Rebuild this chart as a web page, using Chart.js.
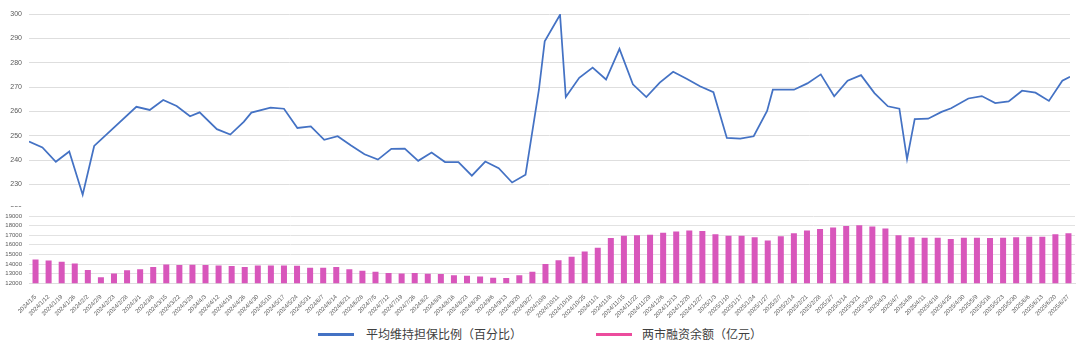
<!DOCTYPE html>
<html>
<head>
<meta charset="utf-8">
<script src="https://cdn.jsdelivr.net/npm/chart.js@4.4.1/dist/chart.umd.min.js"></script>
<style>
  html, body { margin: 0; padding: 0; background: #ffffff; }
  #wrap { position: relative; width: 1080px; height: 352px; overflow: hidden; background: #fff; }
  #topBox { position: absolute; left: 0; top: 0; width: 1080px; height: 207px; overflow: hidden; }
  #topBox canvas { position: absolute; left: 0; top: 0; }
  #botBox { position: absolute; left: 0; top: 205px; width: 1080px; height: 115px; }
  .leg { position: absolute; font-family: "Noto Sans CJK SC", "Noto Sans", sans-serif; font-size: 12px; color: #404040; line-height: 16px; white-space: nowrap; }
  .sw { position: absolute; height: 3px; width: 36px; }
</style>
</head>
<body>
<div id="wrap">
  <div id="topBox"><canvas id="topChart" width="1080" height="220"></canvas></div>
  <div id="botBox"><canvas id="botChart" width="1080" height="115"></canvas></div>
  <div class="sw" style="left:318px; top:333px; background:#4472C4;"></div>
  <div class="leg" style="left:366px; top:326px;">平均维持担保比例（百分比）</div>
  <div class="sw" style="left:596px; top:333px; background:#EC4C9D;"></div>
  <div class="leg" style="left:642px; top:326px;">两市融资余额（亿元）</div>
</div>
<script>
// ---- Data: average maintenance guarantee ratio (%) ----
const lineDates = [
  "2024/1/5","2024/1/12","2024/1/19","2024/1/26","2024/2/2","2024/2/8","2024/3/1","2024/3/8","2024/3/15","2024/3/22",
  "2024/3/29","2024/4/3","2024/4/12","2024/4/19","2024/4/26","2024/4/30","2024/5/10","2024/5/17","2024/5/24","2024/5/31",
  "2024/6/7","2024/6/14","2024/6/21","2024/6/28","2024/7/5","2024/7/12","2024/7/19","2024/7/26","2024/8/2","2024/8/9",
  "2024/8/16","2024/8/23","2024/8/30","2024/9/6","2024/9/13","2024/9/20","2024/9/27","2024/9/30","2024/10/8","2024/10/11",
  "2024/10/18","2024/10/25","2024/11/1","2024/11/8","2024/11/15","2024/11/22","2024/11/29","2024/12/6","2024/12/13","2024/12/20",
  "2024/12/27","2025/1/3","2025/1/10","2025/1/17","2025/1/24","2025/1/27","2025/2/7","2025/2/14","2025/2/21","2025/2/28",
  "2025/3/7","2025/3/14","2025/3/21","2025/3/28","2025/4/3","2025/4/7","2025/4/11","2025/4/18","2025/4/25","2025/4/30",
  "2025/5/9","2025/5/16","2025/5/23","2025/5/30","2025/6/6","2025/6/13","2025/6/20","2025/6/27","2025/7/1"
];
const lineValues = [
  247.6,245.2,239.3,243.5,225.8,245.8,261.9,260.6,264.7,262.2,
  258.0,259.6,252.7,250.5,255.7,259.5,261.5,261.1,253.2,253.8,
  248.3,249.8,246.0,242.4,240.2,244.6,244.7,239.7,243.1,239.2,
  239.2,233.6,239.4,236.7,230.8,234.0,269.0,288.8,299.7,265.9,
  273.8,278.0,273.1,285.7,271.1,265.9,271.8,276.3,273.4,270.3,
  267.9,249.1,248.8,249.8,260.2,268.9,268.9,271.5,275.2,266.2,
  272.6,274.9,267.5,262.1,261.1,240.4,256.8,257.0,259.8,261.3,
  265.3,266.3,263.4,264.1,268.5,267.7,264.3,272.6,274.2
];
const lineTicks = [220, 230, 240, 250, 260, 270, 280, 290, 300];

// ---- Data: margin financing balance of both markets (100 million yuan) ----
const barDates = [
  "2024/1/5","2024/1/12","2024/1/19","2024/1/26","2024/2/2","2024/2/9","2024/2/23","2024/2/28","2024/3/1","2024/3/8",
  "2024/3/15","2024/3/22","2024/3/29","2024/4/3","2024/4/12","2024/4/19","2024/4/26","2024/4/30","2024/5/10","2024/5/17",
  "2024/5/24","2024/5/31","2024/6/7","2024/6/14","2024/6/21","2024/6/28","2024/7/5","2024/7/12","2024/7/19","2024/7/26",
  "2024/8/2","2024/8/9","2024/8/16","2024/8/23","2024/8/30","2024/9/6","2024/9/13","2024/9/20","2024/9/27","2024/10/8",
  "2024/10/11","2024/10/18","2024/10/25","2024/11/1","2024/11/8","2024/11/15","2024/11/22","2024/11/29","2024/12/6","2024/12/13",
  "2024/12/20","2024/12/27","2025/1/3","2025/1/10","2025/1/17","2025/1/24","2025/1/27","2025/2/7","2025/2/14","2025/2/21",
  "2025/2/28","2025/3/7","2025/3/14","2025/3/21","2025/3/28","2025/4/3","2025/4/7","2025/4/8","2025/4/11","2025/4/18",
  "2025/4/25","2025/4/30","2025/5/9","2025/5/16","2025/5/23","2025/5/30","2025/6/6","2025/6/13","2025/6/20","2025/6/27"
];
const barValues = [
  14480,14380,14240,14070,13380,12620,13030,13345,13450,13690,
  13965,13900,13930,13900,13860,13790,13690,13860,13860,13860,
  13830,13620,13620,13690,13460,13310,13210,13070,13030,13070,
  13000,12970,12830,12790,12720,12590,12550,12830,13210,14000,
  14410,14760,15310,15700,16700,16950,17000,17050,17250,17400,
  17500,17450,17100,16950,16950,16800,16450,16900,17200,17500,
  17650,17800,17950,18050,17900,17700,17000,16800,16750,16750,
  16600,16750,16750,16700,16750,16800,16850,16850,17100,17200
];
const barTicks = [12000, 13000, 14000, 15000, 16000, 17000, 18000, 19000];

function dayNum(s) {
  const p = s.split('/').map(Number);
  return Date.UTC(p[0], p[1] - 1, p[2]) / 86400000;
}

const fam = "'Liberation Sans', 'DejaVu Sans', sans-serif";

// ---- Top chart: line on a date-proportional axis ----
new Chart(document.getElementById('topChart'), {
  type: 'line',
  data: {
    datasets: [{
      label: '平均维持担保比例（百分比）',
      data: lineDates.map((d, i) => ({ x: dayNum(d), y: lineValues[i] })),
      borderColor: '#4472C4',
      borderWidth: 1.75,
      pointRadius: 0,
      tension: 0,
      fill: false
    }]
  },
  options: {
    responsive: false,
    animation: false,
    layout: { padding: { left: 0, right: 10, top: 14, bottom: 10 } },
    plugins: { legend: { display: false }, tooltip: { enabled: false } },
    scales: {
      x: {
        type: 'linear',
        display: false,
        min: dayNum(lineDates[0]),
        max: dayNum(lineDates[lineDates.length - 1])
      },
      y: {
        min: lineTicks[0],
        max: lineTicks[lineTicks.length - 1],
        afterBuildTicks: (s) => { s.ticks = lineTicks.map(v => ({ value: v })); },
        afterFit: (s) => { s.width = 29; },
        border: { display: false },
        grid: {
          drawTicks: false,
          lineWidth: 1,
          color: (c) => c.tick && c.tick.value === lineTicks[0] ? 'rgba(0,0,0,0)' : '#dedede'
        },
        ticks: {
          autoSkip: false,
          padding: 7,
          color: '#595959',
          font: { family: fam, size: 7 },
          callback: (v) => String(v)
        }
      }
    }
  }
});

// ---- Bottom chart: bars on a category axis ----
new Chart(document.getElementById('botChart'), {
  type: 'bar',
  data: {
    labels: barDates,
    datasets: [{
      label: '两市融资余额（亿元）',
      data: barValues,
      backgroundColor: '#D856BB',
      borderWidth: 0,
      barPercentage: 0.46,
      categoryPercentage: 1.0
    }]
  },
  options: {
    responsive: false,
    animation: false,
    layout: { padding: { left: 0, right: 5, top: 11, bottom: 0 } },
    plugins: { legend: { display: false }, tooltip: { enabled: false } },
    scales: {
      x: {
        afterFit: (s) => { s.height = 36.7; },
        border: { display: true, color: '#dedede' },
        grid: { display: false },
        ticks: {
          autoSkip: false,
          maxRotation: 45,
          minRotation: 45,
          padding: 2,
          color: '#595959',
          font: { family: fam, size: 6 }
        }
      },
      y: {
        min: barTicks[0],
        max: barTicks[barTicks.length - 1],
        afterBuildTicks: (s) => { s.ticks = barTicks.map(v => ({ value: v })); },
        afterFit: (s) => { s.width = 29; },
        border: { display: false },
        grid: { drawTicks: false, color: '#e2e2e2', lineWidth: 1 },
        ticks: {
          autoSkip: false,
          padding: 7,
          color: '#595959',
          font: { family: fam, size: 6 },
          callback: (v) => String(v)
        }
      }
    }
  }
});
</script>
</body>
</html>
